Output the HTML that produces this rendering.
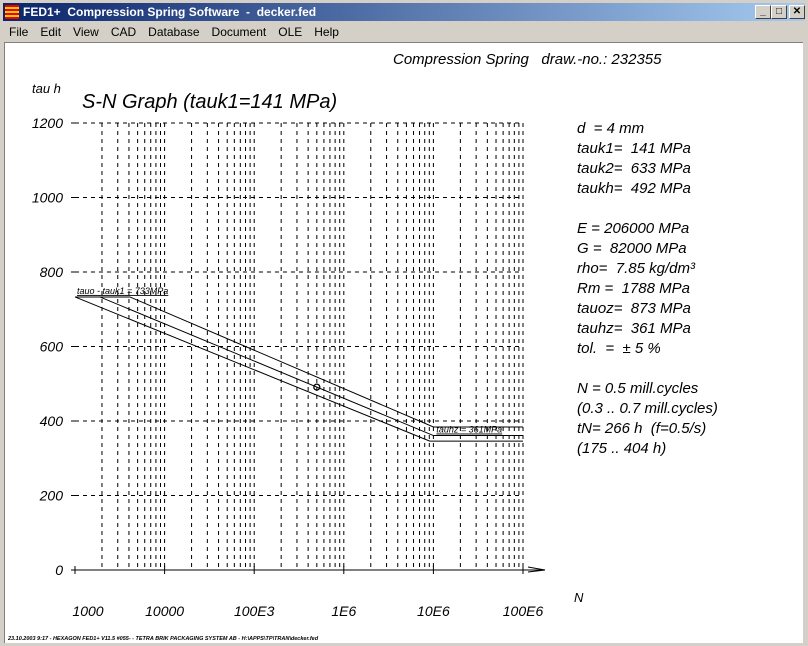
<!DOCTYPE html>
<html><head><meta charset="utf-8"><style>
body{margin:0;width:808px;height:646px;overflow:hidden;background:#d4d0c8;font-family:"Liberation Sans",sans-serif;position:relative}
#title{position:absolute;left:3px;top:3px;width:802px;height:18px;background:linear-gradient(90deg,#0a246a,#a6caf0);color:#fff;font-weight:bold;font-size:12px;line-height:18px}
#menu{position:absolute;left:4px;top:22px;width:800px;height:20px;font-size:12px;line-height:20px}
#menu span{margin-left:5px;margin-right:7px}
#client{position:absolute;left:4px;top:42px;width:798px;height:600px;background:#fff;border-top:1px solid #808080;border-left:1px solid #808080}
.btn{position:absolute;top:2px;width:14px;height:12px;background:#d4d0c8;border:1px solid;border-color:#fff #404040 #404040 #fff;color:#000;font-size:10px;line-height:12px;text-align:center}
#chart text{white-space:pre}
</style></head><body>
<div id="title">
<span style="display:inline-block;width:14px;height:14px;background:repeating-linear-gradient(#e00 0 2px,#fc0 2px 4px);vertical-align:-3px;margin:0 4px 0 2px"></span>FED1+&nbsp; Compression Spring Software&nbsp; -&nbsp; decker.fed
<div class="btn" style="left:752px">_</div>
<div class="btn" style="left:768px">□</div>
<div class="btn" style="left:786px">✕</div>
</div>
<div id="menu"><span>File</span><span>Edit</span><span>View</span><span>CAD</span><span>Database</span><span>Document</span><span>OLE</span><span>Help</span></div>
<div id="client"></div>
<svg id="chart" width="808" height="646" style="position:absolute;left:0;top:0" font-family="Liberation Sans, sans-serif" font-style="italic">
<text x="393" y="64" font-size="15">Compression Spring   draw.-no.: 232355</text>
<text x="32" y="93" font-size="13">tau h</text>
<text x="82" y="108" font-size="20">S-N Graph (tauk1=141 MPa)</text>
<text x="574" y="602" font-size="13">N</text>
<g id="grid"></g><g id="axes"></g><g id="series"></g>
<g font-size="15" id="params"></g>
<text x="8" y="640" font-size="5.5" font-weight="bold">23.10.2003 9:17 - HEXAGON FED1+ V11.5 #055- - TETRA BRIK PACKAGING SYSTEM AB - H:\APPS\TP\TRAN\decker.fed</text>
</svg>
<script>
const xDecades=[3,4,5,6,7,8];
const xTickLabels=["1000","10000","100E3","1E6","10E6","100E6"];
const yTicks=[0,200,400,600,800,1000,1200];
const upperN=[1000,4100,1e7,1e8];
const upperTau=[733,733,384,384];
const middleN=[1000,1900,1e7,1e8];
const middleTau=[733,733,361,361];
const lowerN=[1000,9.1e6,1e8];
const lowerTau=[733,346,346];
const pointN=[5e5];
const pointTau=[491];
const X0=75,DEC=89.6,Y0=570,YS=447/1200;
const xs=n=>X0+(Math.log10(n)-3)*DEC;
const ys=v=>Y0-v*YS;
const NS='http://www.w3.org/2000/svg';
function mk(tag,attrs,parent){const e=document.createElementNS(NS,tag);for(const k in attrs)e.setAttribute(k,attrs[k]);parent.appendChild(e);return e;}
const grid=document.getElementById('grid'),axes=document.getElementById('axes'),series=document.getElementById('series');
const xmin=xs(1000),xmax=xs(1e8);
for(let d=3;d<8;d++)for(let m=1;m<10;m++){const x=xs(m*Math.pow(10,d));if(x<=xmin+0.1)continue;
 const l=mk('line',{x1:x,x2:x,y1:ys(1200),y2:Y0,stroke:'#000','stroke-width':1,'stroke-dasharray':'4,4'},grid);
 }
{const x=xs(1e8);const l=mk('line',{x1:x,x2:x,y1:ys(1200),y2:Y0,stroke:'#000','stroke-dasharray':'4,4'},grid);}
yTicks.forEach(v=>{const y=ys(v);
 if(v>0){const l=mk('line',{x1:xmin,x2:xmax,y1:y,y2:y,stroke:'#000','stroke-dasharray':'4,4'},grid);}
 const t=mk('text',{x:63,y:y+5,'font-size':14,'text-anchor':'end'},axes);t.textContent=v;
 
 const tk=mk('line',{x1:xmin-4,x2:xmin+4,y1:y,y2:y,stroke:'#000'},axes);});
const xa=mk('line',{x1:xmin-3,x2:545,y1:Y0,y2:Y0,stroke:'#000'},axes);
const ar=mk('path',{d:`M528 ${Y0-3} L545 ${Y0} L528 ${Y0+2}`,fill:'none',stroke:'#000'},axes);
xDecades.forEach((d,i)=>{const x=xs(Math.pow(10,d));
 const tk=mk('line',{x1:x,x2:x,y1:Y0-4,y2:Y0+4,stroke:'#000'},axes);
 const t=mk('text',{x:x+(i==0?13:0),y:616,'font-size':14,'text-anchor':'middle'},axes);t.textContent=xTickLabels[i];
 });
function poly(N,T,name){const p=mk('polyline',{points:N.map((n,i)=>xs(n)+','+ys(T[i])).join(' '),fill:'none',stroke:'#000','stroke-width':1},series);
 }
poly(upperN,upperTau,'upper-tolerance-line');poly(middleN,middleTau,'nominal-line');poly(lowerN,lowerTau,'lower-tolerance-line');
pointN.forEach((n,i)=>{const c=mk('circle',{cx:xs(n),cy:ys(pointTau[i]),r:3,fill:'none',stroke:'#000','stroke-width':1.3},series);
 });
const t1=mk('text',{x:xs(1000)+2,y:ys(733)-3,'font-size':9,'text-decoration':'underline'},series);t1.textContent='tauo - tauk1 = 733MPa';

const t2=mk('text',{x:xs(1e7)+3,y:ys(361)-3,'font-size':9,'text-decoration':'underline'},series);t2.textContent='tauhz = 361MPa';

const params=[[133,'d  = 4 mm'],[153,'tauk1=  141 MPa'],[173,'tauk2=  633 MPa'],[193,'taukh=  492 MPa'],[233,'E = 206000 MPa'],[253,'G =  82000 MPa'],[273,'rho=  7.85 kg/dm³'],[293,'Rm =  1788 MPa'],[313,'tauoz=  873 MPa'],[333,'tauhz=  361 MPa'],[353,'tol.  =  ± 5 %'],[393,'N = 0.5 mill.cycles'],[413,'(0.3 .. 0.7 mill.cycles)'],[433,'tN= 266 h  (f=0.5/s)'],[453,'(175 .. 404 h)']];
const pg=document.getElementById('params');
params.forEach(p=>{const t=mk('text',{x:577,y:p[0]},pg);t.textContent=p[1];
 });
</script>
</body></html>
